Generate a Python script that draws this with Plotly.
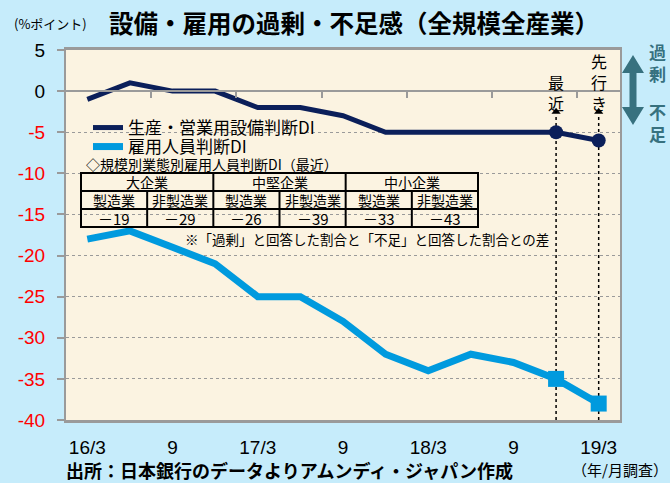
import plotly.graph_objects as go

# ---------------- data ----------------
categories = ["16/3", "16/6", "16/9", "16/12", "17/3", "17/6", "17/9", "17/12",
              "18/3", "18/6", "18/9", "18/12", "19/3"]
tick_labels = ["16/3", "9", "17/3", "9", "18/3", "9", "19/3"]
equipment_di = [-1, 1, 0, 0, -2, -2, -3, -5, -5, -5, -5, -5, -6]
employment_di = [-18, -17, -19, -21, -25, -25, -28, -32, -34, -32, -33, -35, -38]
y_ticks = [5, 0, -5, -10, -15, -20, -25, -30, -35, -40]
series_names = ["生産・営業用設備判断DI", "雇用人員判断DI"]
table_groups = ["大企業", "中堅企業", "中小企業"]
table_sectors = ["製造業", "非製造業"]
table_values = [-19, -29, -26, -39, -33, -43]
marker_labels = ["最<br>近", "先<br>行<br>き"]

# ---------------- style ----------------
NAVY = "#0b1f5a"
BLUE = "#009ade"
TEAL = "#37717f"
PAPER = "#c6ecfb"
PLOT = "#fbf3e1"
FONT = "Liberation Sans, Noto Sans CJK JP, sans-serif"
CJK = "Noto Sans CJK JP, sans-serif"

W_, H_ = 670, 483
L, R, T, B = 66, 620, 50, 420


def px(x):
    return (x - L) / (R - L)


def py(y):
    return (B - y) / (B - T)


arrow_base = -2.8
arrow_tip_y = -2.5

fig = go.Figure()

fig.add_trace(go.Scatter(x=categories, y=equipment_di, mode="lines", name=series_names[0],
                         line=dict(color=NAVY, width=5), legend="legend"))
fig.add_trace(go.Scatter(x=categories, y=employment_di, mode="lines", name=series_names[1],
                         line=dict(color=BLUE, width=7), legend="legend2"))
# vertical dotted reference lines at the last two surveys
for c in categories[-2:]:
    fig.add_trace(go.Scatter(x=[c, c], y=[-40, arrow_base], mode="lines",
                             line=dict(color="black", width=1.5, dash="dot"),
                             showlegend=False, hoverinfo="skip"))
fig.add_trace(go.Scatter(x=categories[-2:], y=[arrow_tip_y] * 2, mode="markers",
                         marker=dict(symbol="triangle-up", size=8, color="black"),
                         showlegend=False, hoverinfo="skip"))
fig.add_trace(go.Scatter(x=categories[-2:], y=equipment_di[-2:], mode="markers",
                         marker=dict(symbol="circle", size=14, color=NAVY),
                         showlegend=False))
fig.add_trace(go.Scatter(x=categories[-2:], y=employment_di[-2:], mode="markers",
                         marker=dict(symbol="square", size=16, color=BLUE),
                         showlegend=False))
# helper trace for the axis drawn at zero
fig.add_trace(go.Scatter(x=[], y=[], xaxis="x2", yaxis="y", showlegend=False))

n = len(categories)
y_ticktext = [str(v) if v >= 0 else f'<span style="color:#ff0000">{v}</span>' for v in y_ticks]

legend_common = dict(xanchor="left", yanchor="top", bgcolor="rgba(0,0,0,0)",
                     font=dict(size=17, family=CJK, color="black"), tracegroupgap=0)

fig.update_layout(
    width=W_, height=H_,
    margin=dict(l=L, r=W_ - R, t=T, b=H_ - B),
    paper_bgcolor=PAPER, plot_bgcolor=PLOT,
    font=dict(family=FONT, color="black"),
    xaxis=dict(type="category", categoryorder="array", categoryarray=categories,
               range=[-0.5, n - 0.5],
               tickmode="array", tickvals=categories[::2], ticktext=tick_labels,
               ticks="", showgrid=False, zeroline=False,
               showline=True, linecolor="#9a9a9a", linewidth=3, mirror=True,
               tickfont=dict(size=19, family=FONT), ticklabelstandoff=8),
    xaxis2=dict(overlaying="x", anchor="free", position=(0 - (-40)) / (5 - (-40)),
                range=[-0.5, n - 0.5], tickmode="array",
                tickvals=[i + 1.5 for i in range(0, n - 1, 2)],
                ticks="outside", ticklen=6, tickwidth=1.5, tickcolor="#9a9a9a",
                showticklabels=False, showgrid=False, zeroline=False,
                showline=True, linecolor="#9a9a9a", linewidth=2),
    yaxis=dict(range=[-40, 5], tickmode="array", tickvals=y_ticks, ticktext=y_ticktext,
               ticks="outside", ticklen=7, tickwidth=2, tickcolor="#9a9a9a",
               showgrid=True, gridcolor="#9a9a9a", gridwidth=1, griddash="dot",
               zeroline=False, showline=True, linecolor="#9a9a9a", linewidth=2, mirror=True,
               tickfont=dict(size=19, family=FONT), ticklabelstandoff=8),
    legend=dict(x=px(88), y=py(110), **legend_common),
    legend2=dict(x=px(88), y=py(129), **legend_common),
    showlegend=True,
)

annotations = []


def note(text, x, y, size, color="black", xanchor="center", yanchor="middle", xref="paper", yref="paper"):
    annotations.append(dict(text=text, x=x, y=y, xref=xref, yref=yref, showarrow=False,
                            xanchor=xanchor, yanchor=yanchor,
                            font=dict(size=size, family=CJK, color=color)))


# title and unit
note("<b>設備・雇用の過剰・不足感（全規模全産業）</b>", px(354), py(22), 24.5)
note("(%ポイント)", px(50), py(23), 13)
# labels of reference lines
for c, lab in zip(categories[-2:], marker_labels):
    note(lab, c, arrow_tip_y - 0.62, 16, yanchor="bottom", xref="x", yref="y")
# right-side labels
note("<b>過<br>剰</b>", px(657), py(63), 17, color=TEAL)
note("<b>不<br>足</b>", px(657), py(122), 17, color=TEAL)
# table caption and note
note("◇規模別業態別雇用人員判断DI（最近）", px(84), py(164), 14, xanchor="left")
note("※「過剰」と回答した割合と「不足」と回答した割合との差", px(183), py(239), 13.5, xanchor="left")
# footer
note("<b>出所：日本銀行のデータよりアムンディ・ジャパン作成</b>", px(64), py(470), 18, xanchor="left")
note("（年/月調査）", px(620), py(469), 15)

# ---------------- table ----------------
tx0, tx1 = 81, 478
ty = [173, 191, 209, 227]
ncol = len(table_groups) * len(table_sectors)
cw = (tx1 - tx0) / ncol
shapes = []
line = dict(color="black", width=2)
shapes.append(dict(type="rect", xref="paper", yref="paper", x0=px(tx0), x1=px(tx1),
                   y0=py(ty[0]), y1=py(ty[-1]), line=line, fillcolor=PLOT, layer="below"))
for yy in ty[1:-1]:
    shapes.append(dict(type="line", xref="paper", yref="paper", x0=px(tx0), x1=px(tx1),
                       y0=py(yy), y1=py(yy), line=line))
for j in range(1, ncol):
    xx = tx0 + j * cw
    top = ty[0] if j % 2 == 0 else ty[1]
    shapes.append(dict(type="line", xref="paper", yref="paper", x0=px(xx), x1=px(xx),
                       y0=py(top), y1=py(ty[-1]), line=line))
for g, name in enumerate(table_groups):
    cx = tx0 + (2 * g + 1) * cw
    note(name, px(cx), py((ty[0] + ty[1]) / 2), 14)
for j in range(ncol):
    cx = tx0 + (j + 0.5) * cw
    note(table_sectors[j % 2], px(cx), py((ty[1] + ty[2]) / 2), 14)
    v = table_values[j]
    note(("－" if v < 0 else "") + str(abs(v)), px(cx), py((ty[2] + ty[3]) / 2), 15)
# outline on top
shapes.append(dict(type="rect", xref="paper", yref="paper", x0=px(tx0), x1=px(tx1),
                   y0=py(ty[0]), y1=py(ty[-1]), line=line))

# double-headed arrow at right
pts = [(633, 55), (644, 73), (636.5, 73), (636.5, 107), (644, 107), (633, 125),
       (622, 107), (629.5, 107), (629.5, 73), (622, 73)]
path = "M " + " L ".join(f"{px(x):.5f},{py(y):.5f}" for x, y in pts) + " Z"
shapes.append(dict(type="path", xref="paper", yref="paper", path=path,
                   fillcolor=TEAL, line=dict(width=0)))

fig.update_layout(annotations=annotations, shapes=shapes)
fig.write_html("out.html", config={"displayModeBar": False},
               post_script="document.body.style.margin='0';document.body.style.overflow='hidden';")
